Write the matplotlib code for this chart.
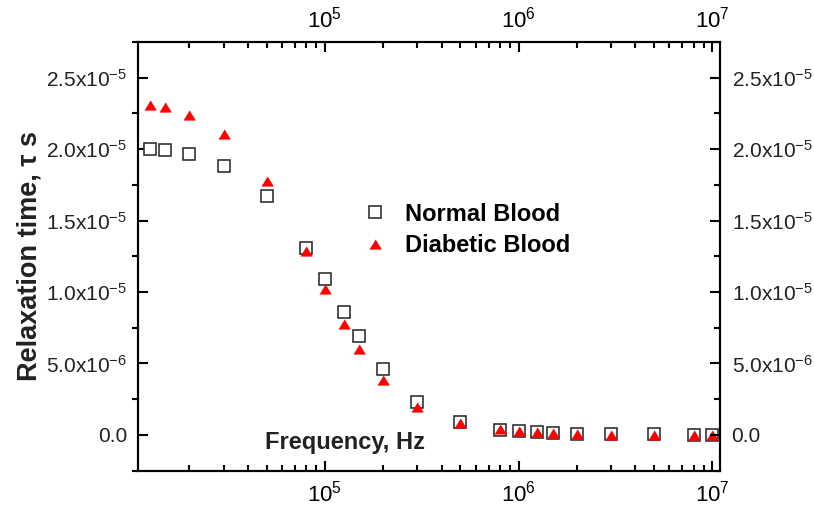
import matplotlib
matplotlib.use("Agg")
import matplotlib.pyplot as plt
from matplotlib.ticker import MultipleLocator, FuncFormatter, LogLocator

plt.rcParams['font.family'] = ['Liberation Sans', 'DejaVu Sans']
plt.rcParams['mathtext.fontset'] = 'custom'
plt.rcParams['mathtext.rm'] = 'Liberation Sans'
plt.rcParams['mathtext.it'] = 'Liberation Sans:italic'
plt.rcParams['mathtext.bf'] = 'Liberation Sans:bold'

# frequency in Hz
freq = [12.5e3, 15e3, 20e3, 30e3, 50e3, 80e3, 100e3, 125e3, 150e3, 200e3,
        300e3, 500e3, 800e3, 1e6, 1.25e6, 1.5e6, 2e6, 3e6, 5e6, 8e6, 1e7]

# relaxation time, units of 1e-5 s
tau_normal = [2.004, 1.995, 1.967, 1.885, 1.674, 1.308, 1.092, 0.863, 0.690, 0.458,
              0.229, 0.092, 0.036, 0.024, 0.017, 0.013, 0.008, 0.003, 0.003, 0.001, 0.001]
tau_diabetic = [2.312, 2.292, 2.242, 2.109, 1.776, 1.289, 1.024, 0.779, 0.604, 0.384,
                0.192, 0.082, 0.043, 0.027, 0.017, 0.015, 0.006, 0.001, 0.001, 0.001, 0.0]

tau_normal = [v * 1e-5 for v in tau_normal]
tau_diabetic = [v * 1e-5 for v in tau_diabetic]

YMIN, YMAX = -0.25e-5, 2.75e-5


def sci_label(v, pos):
    if abs(v) < 1e-12:
        return "0.0"
    exp = 0
    m = v
    while abs(m) < 1:
        m *= 10
        exp -= 1
    return f"{m:.1f}x10$^{{{exp}}}$"


fig = plt.figure(figsize=(8.14, 5.12), dpi=100)
ax = fig.add_axes([0.170, 0.081, 0.715, 0.837])

ax.plot(freq, tau_normal, linestyle='none', marker='s', markersize=9.2,
        markerfacecolor='white', markeredgecolor='#222222', markeredgewidth=1.1,
        label='Normal Blood')
tri = [(-1, -0.82), (1, -0.82), (0, 0.82)]
ax.plot(freq, tau_diabetic, linestyle='none', marker=tri, markersize=8.2,
        markerfacecolor='red', markeredgecolor='red', markeredgewidth=0.5,
        label='Diabetic Blood')

ax.set_xscale('log')
ax.set_xlim(1.09e4, 1.1e7)
ax.set_ylim(YMIN, YMAX)

ax.xaxis.set_major_locator(LogLocator(base=10, numticks=10))
ax.xaxis.set_minor_locator(LogLocator(base=10, subs=range(2, 10), numticks=20))
ax.tick_params(axis='x', which='major', direction='in', top=True, labeltop=True,
               length=7, width=1.5, labelsize=16, pad=7)
ax.tick_params(axis='x', which='minor', direction='in', top=True,
               length=4, width=1.5)

ax.yaxis.set_major_locator(MultipleLocator(0.5e-5))
ax.yaxis.set_minor_locator(MultipleLocator(0.25e-5))
ax.yaxis.set_major_formatter(FuncFormatter(sci_label))
ax.tick_params(axis='y', which='major', direction='in', length=7, width=1.5,
               labelsize=15, pad=8, labelcolor='#222222')
ax.tick_params(axis='y', which='minor', direction='out', length=4, width=1.5)

# right-hand copy of the y axis
ax2 = ax.twinx()
ax2.set_ylim(YMIN, YMAX)
ax2.yaxis.set_major_locator(MultipleLocator(0.5e-5))
ax2.yaxis.set_minor_locator(MultipleLocator(0.25e-5))
ax2.yaxis.set_major_formatter(FuncFormatter(sci_label))
ax2.tick_params(axis='y', which='major', direction='in', length=7, width=1.5,
                labelsize=15, pad=8, labelcolor='#222222')
ax2.tick_params(axis='y', which='minor', direction='in', length=4, width=1.5)

for a in (ax, ax2):
    for sp in a.spines.values():
        sp.set_linewidth(1.5)

ax.set_ylabel('Relaxation time, τ s', fontsize=19.5, fontweight='bold',
              color='#222222', labelpad=3)
ax.text(0.218, 0.066, 'Frequency, Hz', transform=ax.transAxes, fontsize=17,
        fontweight='bold', color='#222222', va='center', ha='left')

ax.legend(loc='center left', bbox_to_anchor=(0.366, 0.562), frameon=False,
          prop={'size': 17, 'weight': 'bold'}, handlelength=1.0,
          handletextpad=0.75, labelspacing=0.35, borderpad=0)

fig.savefig('out.png', dpi=100)
